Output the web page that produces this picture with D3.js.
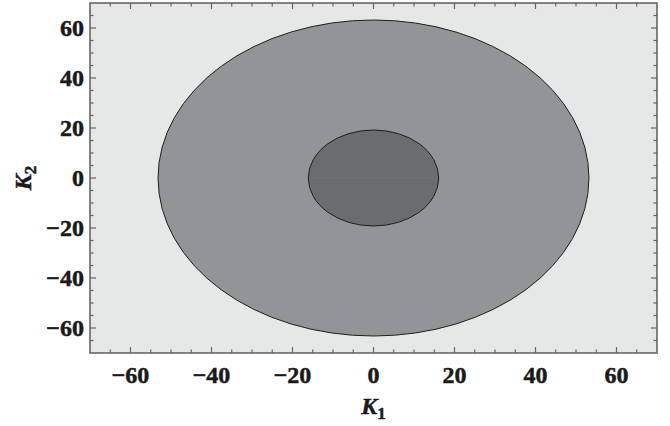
<!DOCTYPE html>
<html><head><meta charset="utf-8">
<script src="https://cdn.jsdelivr.net/npm/d3@7"></script>
<style>html,body{margin:0;padding:0;background:#fff;}svg{display:block;}</style>
</head><body>
<svg id="c" width="670" height="426"></svg>
<script>
// Data
const regionNames = ["outer", "inner"];
const semiK1 = [53.2, 16.1];     // half-width along K1
const semiK2 = [63.2, 19.2];     // half-height along K2
const regionFill = ["#939498", "#6b6c6e"];
const majorTicks = [-60, -40, -20, 0, 20, 40, 60];
const minorTicks = d3.range(-70, 71, 5);
const domainK = [-70, 70];

const svg = d3.select("#c");
const L = 90, R = 657, T = 3, B = 353;
const x = d3.scaleLinear().domain(domainK).range([L, R]);
const y = d3.scaleLinear().domain(domainK).range([B, T]);

svg.append("rect").attr("x", L).attr("y", T).attr("width", R - L).attr("height", B - T).attr("fill", "#e6e7e7");

regionNames.forEach((n, i) => {
  svg.append("ellipse")
    .attr("cx", x(0)).attr("cy", y(0))
    .attr("rx", x(semiK1[i]) - x(0)).attr("ry", y(0) - y(semiK2[i]))
    .attr("fill", regionFill[i]).attr("stroke", "#1e1e1e").attr("stroke-width", 1);
});
svg.append("line").attr("x1", x(-semiK1[1]) + 1).attr("x2", x(semiK1[1]) - 1)
  .attr("y1", y(0)).attr("y2", y(0)).attr("stroke", "#747476").attr("stroke-width", 0.8);

const font = "'Liberation Serif', 'Times New Roman', Times, serif";
const frameCol = "#666";
const minorOnly = minorTicks.filter(v => !majorTicks.includes(v) && v > domainK[0] && v < domainK[1]);

const g = svg.append("g").attr("stroke", frameCol).attr("stroke-width", 1.2);
function ticks(vals, len) {
  vals.forEach(v => {
    g.append("line").attr("x1", x(v)).attr("x2", x(v)).attr("y1", B).attr("y2", B - len);
    g.append("line").attr("x1", x(v)).attr("x2", x(v)).attr("y1", T).attr("y2", T + len);
    g.append("line").attr("y1", y(v)).attr("y2", y(v)).attr("x1", L).attr("x2", L + len);
    g.append("line").attr("y1", y(v)).attr("y2", y(v)).attr("x1", R).attr("x2", R - len);
  });
}
ticks(majorTicks, 6);
ticks(minorOnly, 3.5);
svg.append("rect").attr("x", L).attr("y", T).attr("width", R - L).attr("height", B - T)
  .attr("fill", "none").attr("stroke", frameCol).attr("stroke-width", 1.6);

const FS = 24;
const txtCol = "#1a1a1a";
function styleText(s) {
  return s.attr("font-family", font).attr("font-weight", "bold").attr("font-size", FS)
    .attr("fill", txtCol).attr("stroke", txtCol).attr("stroke-width", 0.5);
}
const fmt = v => v < 0 ? "\u2212" + Math.abs(v) : String(v);
majorTicks.forEach(v => {
  styleText(svg.append("text").attr("x", x(v)).attr("y", 383).attr("text-anchor", "middle")).text(fmt(v));
  styleText(svg.append("text").attr("x", 84).attr("y", y(v) + 8).attr("text-anchor", "end")).text(fmt(v));
});

const xl = styleText(svg.append("text").attr("x", x(0)).attr("y", 414).attr("text-anchor", "middle"));
xl.append("tspan").attr("font-style", "italic").text("K");
xl.append("tspan").attr("font-size", 17).attr("dy", 5).text("1");

const yl = styleText(svg.append("text").attr("transform", `translate(31,${y(0)}) rotate(-90)`).attr("text-anchor", "middle"));
yl.append("tspan").attr("font-style", "italic").text("K");
yl.append("tspan").attr("font-size", 17).attr("dy", 5).text("2");
</script>
</body></html>
